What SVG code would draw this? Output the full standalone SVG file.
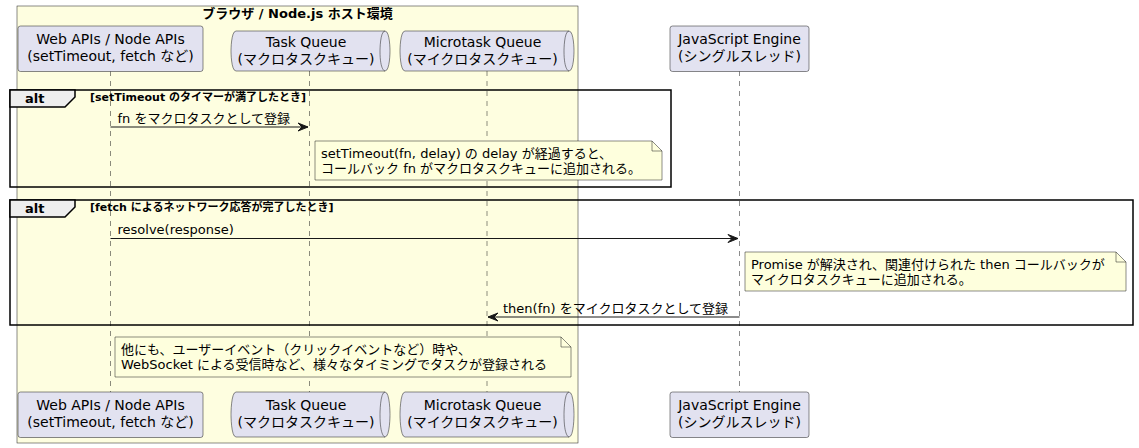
<svg xmlns="http://www.w3.org/2000/svg" width="1139" height="448" viewBox="0 0 1139 448">
<style>
text{font-family:"DejaVu Sans","Noto Sans CJK JP",sans-serif;fill:#000}
.p{font-size:14px}
.m{font-size:13px}
.c{font-size:11px;font-weight:bold}
.t{font-size:13px;font-weight:bold}
.part{fill:#E2E2F0;stroke:#181818;stroke-width:0.5}
.life{stroke:#181818;stroke-width:0.5;stroke-dasharray:5,5;fill:none}
.note{fill:#FEFFDD;stroke:#181818;stroke-width:0.5}
.frame{fill:none;stroke:#000;stroke-width:1.5}
.tab{fill:#EEEEEE;stroke:#000;stroke-width:1.5}
.msg{stroke:#181818;stroke-width:1;fill:none}
.head{fill:#181818;stroke:#181818;stroke-width:1}
</style>
<g id="host-box">
<rect x="17" y="6" width="561" height="437" fill="#FEFEE0" stroke="#181818" stroke-width="0.5"/>
<text class="t" x="297.5" y="18" text-anchor="middle">ブラウザ / Node.js ホスト環境</text>
</g>
<g id="lifelines">
<line class="life" x1="110.5" y1="71" x2="110.5" y2="392"/>
<line class="life" x1="309.5" y1="71" x2="309.5" y2="392"/>
<line class="life" x1="487" y1="71" x2="487" y2="392"/>
<line class="life" x1="739.5" y1="71" x2="739.5" y2="392"/>
</g>
<g id="webapis-top">
<rect class="part" x="18" y="26" width="185" height="45.5" rx="2.5"/>
<text class="p" x="110.5" y="44" text-anchor="middle">Web APIs / Node APIs</text>
<text class="p" x="110.5" y="60.5" text-anchor="middle">(setTimeout, fetch など)</text>
</g>
<g id="taskqueue-top">
<path class="part" d="M236,31 L385,31 C390,31 390,51 390,51 C390,51 390,71 385,71 L236,71 C231,71 231,51 231,51 C231,51 231,31 236,31 Z"/>
<path class="part" fill="none" d="M385,31 C380,31 380,51 380,51 C380,71 385,71 385,71" style="fill:none"/>
<text class="p" x="306" y="47" text-anchor="middle">Task Queue</text>
<text class="p" x="306" y="63.5" text-anchor="middle">(マクロタスクキュー)</text>
</g>
<g id="microtaskqueue-top">
<path class="part" d="M405,31 L569,31 C574,31 574,51 574,51 C574,51 574,71 569,71 L405,71 C400,71 400,51 400,51 C400,51 400,31 405,31 Z"/>
<path class="part" d="M569,31 C564,31 564,51 564,51 C564,71 569,71 569,71" style="fill:none"/>
<text class="p" x="482.5" y="47" text-anchor="middle">Microtask Queue</text>
<text class="p" x="482.5" y="63.5" text-anchor="middle">(マイクロタスクキュー)</text>
</g>
<g id="jsengine-top">
<rect class="part" x="670" y="26" width="139" height="45.5" rx="2.5"/>
<text class="p" x="739.5" y="44" text-anchor="middle">JavaScript Engine</text>
<text class="p" x="739.5" y="60.5" text-anchor="middle">(シングルスレッド)</text>
</g>
<g id="alt1">
<rect class="frame" x="10" y="90" width="661" height="97"/>
<polygon class="tab" points="10,90 75,90 75,97 65,107 10,107"/>
<text class="t" x="25" y="102.5">alt</text>
<text class="c" x="90" y="101">[setTimeout のタイマーが満了したとき]</text>
</g>
<g id="alt2">
<rect class="frame" x="10" y="200" width="1123" height="125"/>
<polygon class="tab" points="10,200 75,200 75,207 65,217 10,217"/>
<text class="t" x="25" y="212.5">alt</text>
<text class="c" x="90" y="211">[fetch によるネットワーク応答が完了したとき]</text>
</g>
<g id="connectors">
<line class="msg" x1="110.5" y1="127" x2="308" y2="127"/>
<polygon class="head" points="298,123 308,127 298,131 302,127"/>
<text class="m" x="117.5" y="122.5">fn をマクロタスクとして登録</text>
<line class="msg" x1="110.5" y1="238.5" x2="738" y2="238.5"/>
<polygon class="head" points="728,234.5 738,238.5 728,242.5 732,238.5"/>
<text class="m" x="117.5" y="234">resolve(response)</text>
<line class="msg" x1="488" y1="317" x2="739.5" y2="317"/>
<polygon class="head" points="498,313 488,317 498,321 494,317"/>
<text class="m" x="503" y="312.5">then(fn) をマイクロタスクとして登録</text>
</g>
<g id="note1">
<path class="note" d="M315,141 L315,180 L662,180 L662,151 L652,141 Z"/>
<path class="note" d="M652,141 L652,151 L662,151" style="fill:none"/>
<text class="m" x="321" y="157.5">setTimeout(fn, delay) の delay が経過すると、</text>
<text class="m" x="321" y="173">コールバック fn がマクロタスクキューに追加される。</text>
</g>
<g id="note2">
<path class="note" d="M745,252 L745,291 L1126,291 L1126,262 L1116,252 Z"/>
<path class="note" d="M1116,252 L1116,262 L1126,262" style="fill:none"/>
<text class="m" x="751" y="268.5">Promise が解決され、関連付けられた then コールバックが</text>
<text class="m" x="751" y="284">マイクロタスクキューに追加される。</text>
</g>
<g id="note3">
<path class="note" d="M115,337 L115,377 L571,377 L571,347 L561,337 Z"/>
<path class="note" d="M561,337 L561,347 L571,347" style="fill:none"/>
<text class="m" x="121" y="353.5">他にも、ユーザーイベント（クリックイベントなど）時や、</text>
<text class="m" x="121" y="369">WebSocket による受信時など、様々なタイミングでタスクが登録される</text>
</g>
<g id="webapis-bottom">
<rect class="part" x="18" y="392" width="185" height="45.5" rx="2.5"/>
<text class="p" x="110.5" y="410" text-anchor="middle">Web APIs / Node APIs</text>
<text class="p" x="110.5" y="426.5" text-anchor="middle">(setTimeout, fetch など)</text>
</g>
<g id="taskqueue-bottom">
<path class="part" d="M236,392 L385,392 C390,392 390,414.5 390,414.5 C390,414.5 390,437 385,437 L236,437 C231,437 231,414.5 231,414.5 C231,414.5 231,392 236,392 Z"/>
<path class="part" d="M385,392 C380,392 380,414.5 380,414.5 C380,437 385,437 385,437" style="fill:none"/>
<text class="p" x="306" y="410" text-anchor="middle">Task Queue</text>
<text class="p" x="306" y="426.5" text-anchor="middle">(マクロタスクキュー)</text>
</g>
<g id="microtaskqueue-bottom">
<path class="part" d="M405,392 L569,392 C574,392 574,414.5 574,414.5 C574,414.5 574,437 569,437 L405,437 C400,437 400,414.5 400,414.5 C400,414.5 400,392 405,392 Z"/>
<path class="part" d="M569,392 C564,392 564,414.5 564,414.5 C564,437 569,437 569,437" style="fill:none"/>
<text class="p" x="482.5" y="410" text-anchor="middle">Microtask Queue</text>
<text class="p" x="482.5" y="426.5" text-anchor="middle">(マイクロタスクキュー)</text>
</g>
<g id="jsengine-bottom">
<rect class="part" x="670" y="392" width="139" height="45.5" rx="2.5"/>
<text class="p" x="739.5" y="410" text-anchor="middle">JavaScript Engine</text>
<text class="p" x="739.5" y="426.5" text-anchor="middle">(シングルスレッド)</text>
</g>
</svg>
